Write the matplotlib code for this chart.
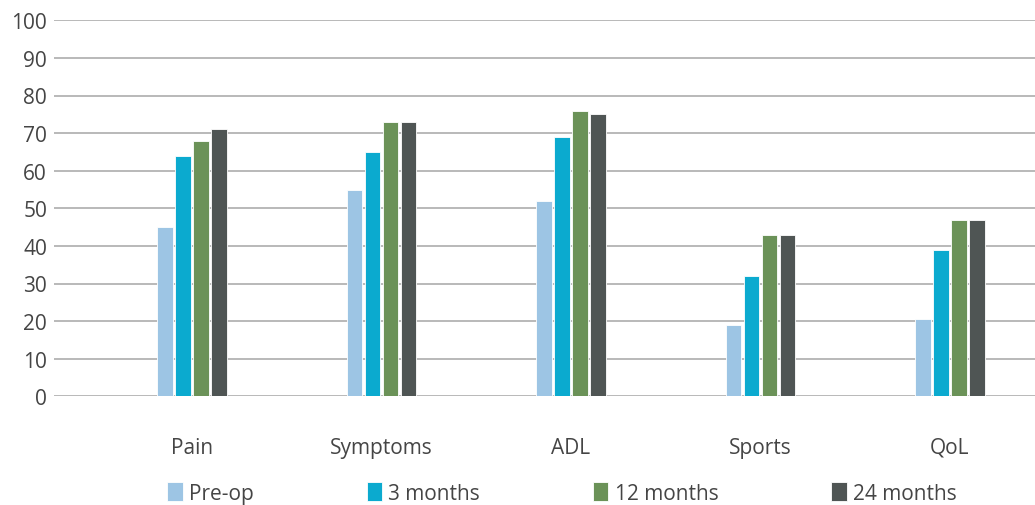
import matplotlib
matplotlib.use("Agg")
import matplotlib.pyplot as plt
import numpy as np

categories = ["Pain", "Symptoms", "ADL", "Sports", "QoL"]
series_names = ["Pre-op", "3 months", "12 months", "24 months"]
pre_op = [45, 55, 52, 19, 20.5]
months_3 = [64, 65, 69, 32, 39]
months_12 = [68, 73, 76, 43, 47]
months_24 = [71, 73, 75, 43, 47]
y_ticks = [0, 10, 20, 30, 40, 50, 60, 70, 80, 90, 100]

colors = ["#9DC5E4", "#0BAACF", "#6B9258", "#4F5554"]
text_color = "#454545"

plt.rcParams['font.family'] = ['Open Sans', 'DejaVu Sans']

fig = plt.figure(figsize=(10.35, 5.06), dpi=100)
ax = fig.add_axes([54/1035, 1 - 397.3/506, 1 - 54/1035, (397.3 - 21.3)/506])

x = np.arange(len(categories))
pitch = 0.095
width = 0.082
all_series = [pre_op, months_3, months_12, months_24]
for i, (vals, name, c) in enumerate(zip(all_series, series_names, colors)):
    ax.bar(x + (i - 1.5) * pitch, vals, width=width, color=c, label=name,
           edgecolor="white", linewidth=0.6, zorder=3)

ax.set_ylim(0, 100)
ax.set_xlim(-0.728, 4.449)
ax.set_yticks(y_ticks)
ax.set_yticklabels([str(v) for v in y_ticks], fontsize=15, color=text_color)
ax.set_xticks(x)
ax.set_xticklabels(categories, fontsize=15, color=text_color)
ax.tick_params(axis='y', length=0, pad=5)
ax.tick_params(axis='x', length=0, pad=29)
ax.yaxis.grid(True, color="#A6A6A6", linewidth=1.1, zorder=0)
ax.set_axisbelow(True)
for s in ax.spines.values():
    s.set_visible(False)

leg = fig.legend(loc='center', bbox_to_anchor=(562/1035, 1 - 494/506), ncol=4,
                 frameon=False, fontsize=15, handlelength=0.75, handleheight=1.05,
                 handletextpad=0.3, columnspacing=5.4, borderaxespad=0)
for t in leg.get_texts():
    t.set_color(text_color)

fig.savefig("out.png", dpi=100)
